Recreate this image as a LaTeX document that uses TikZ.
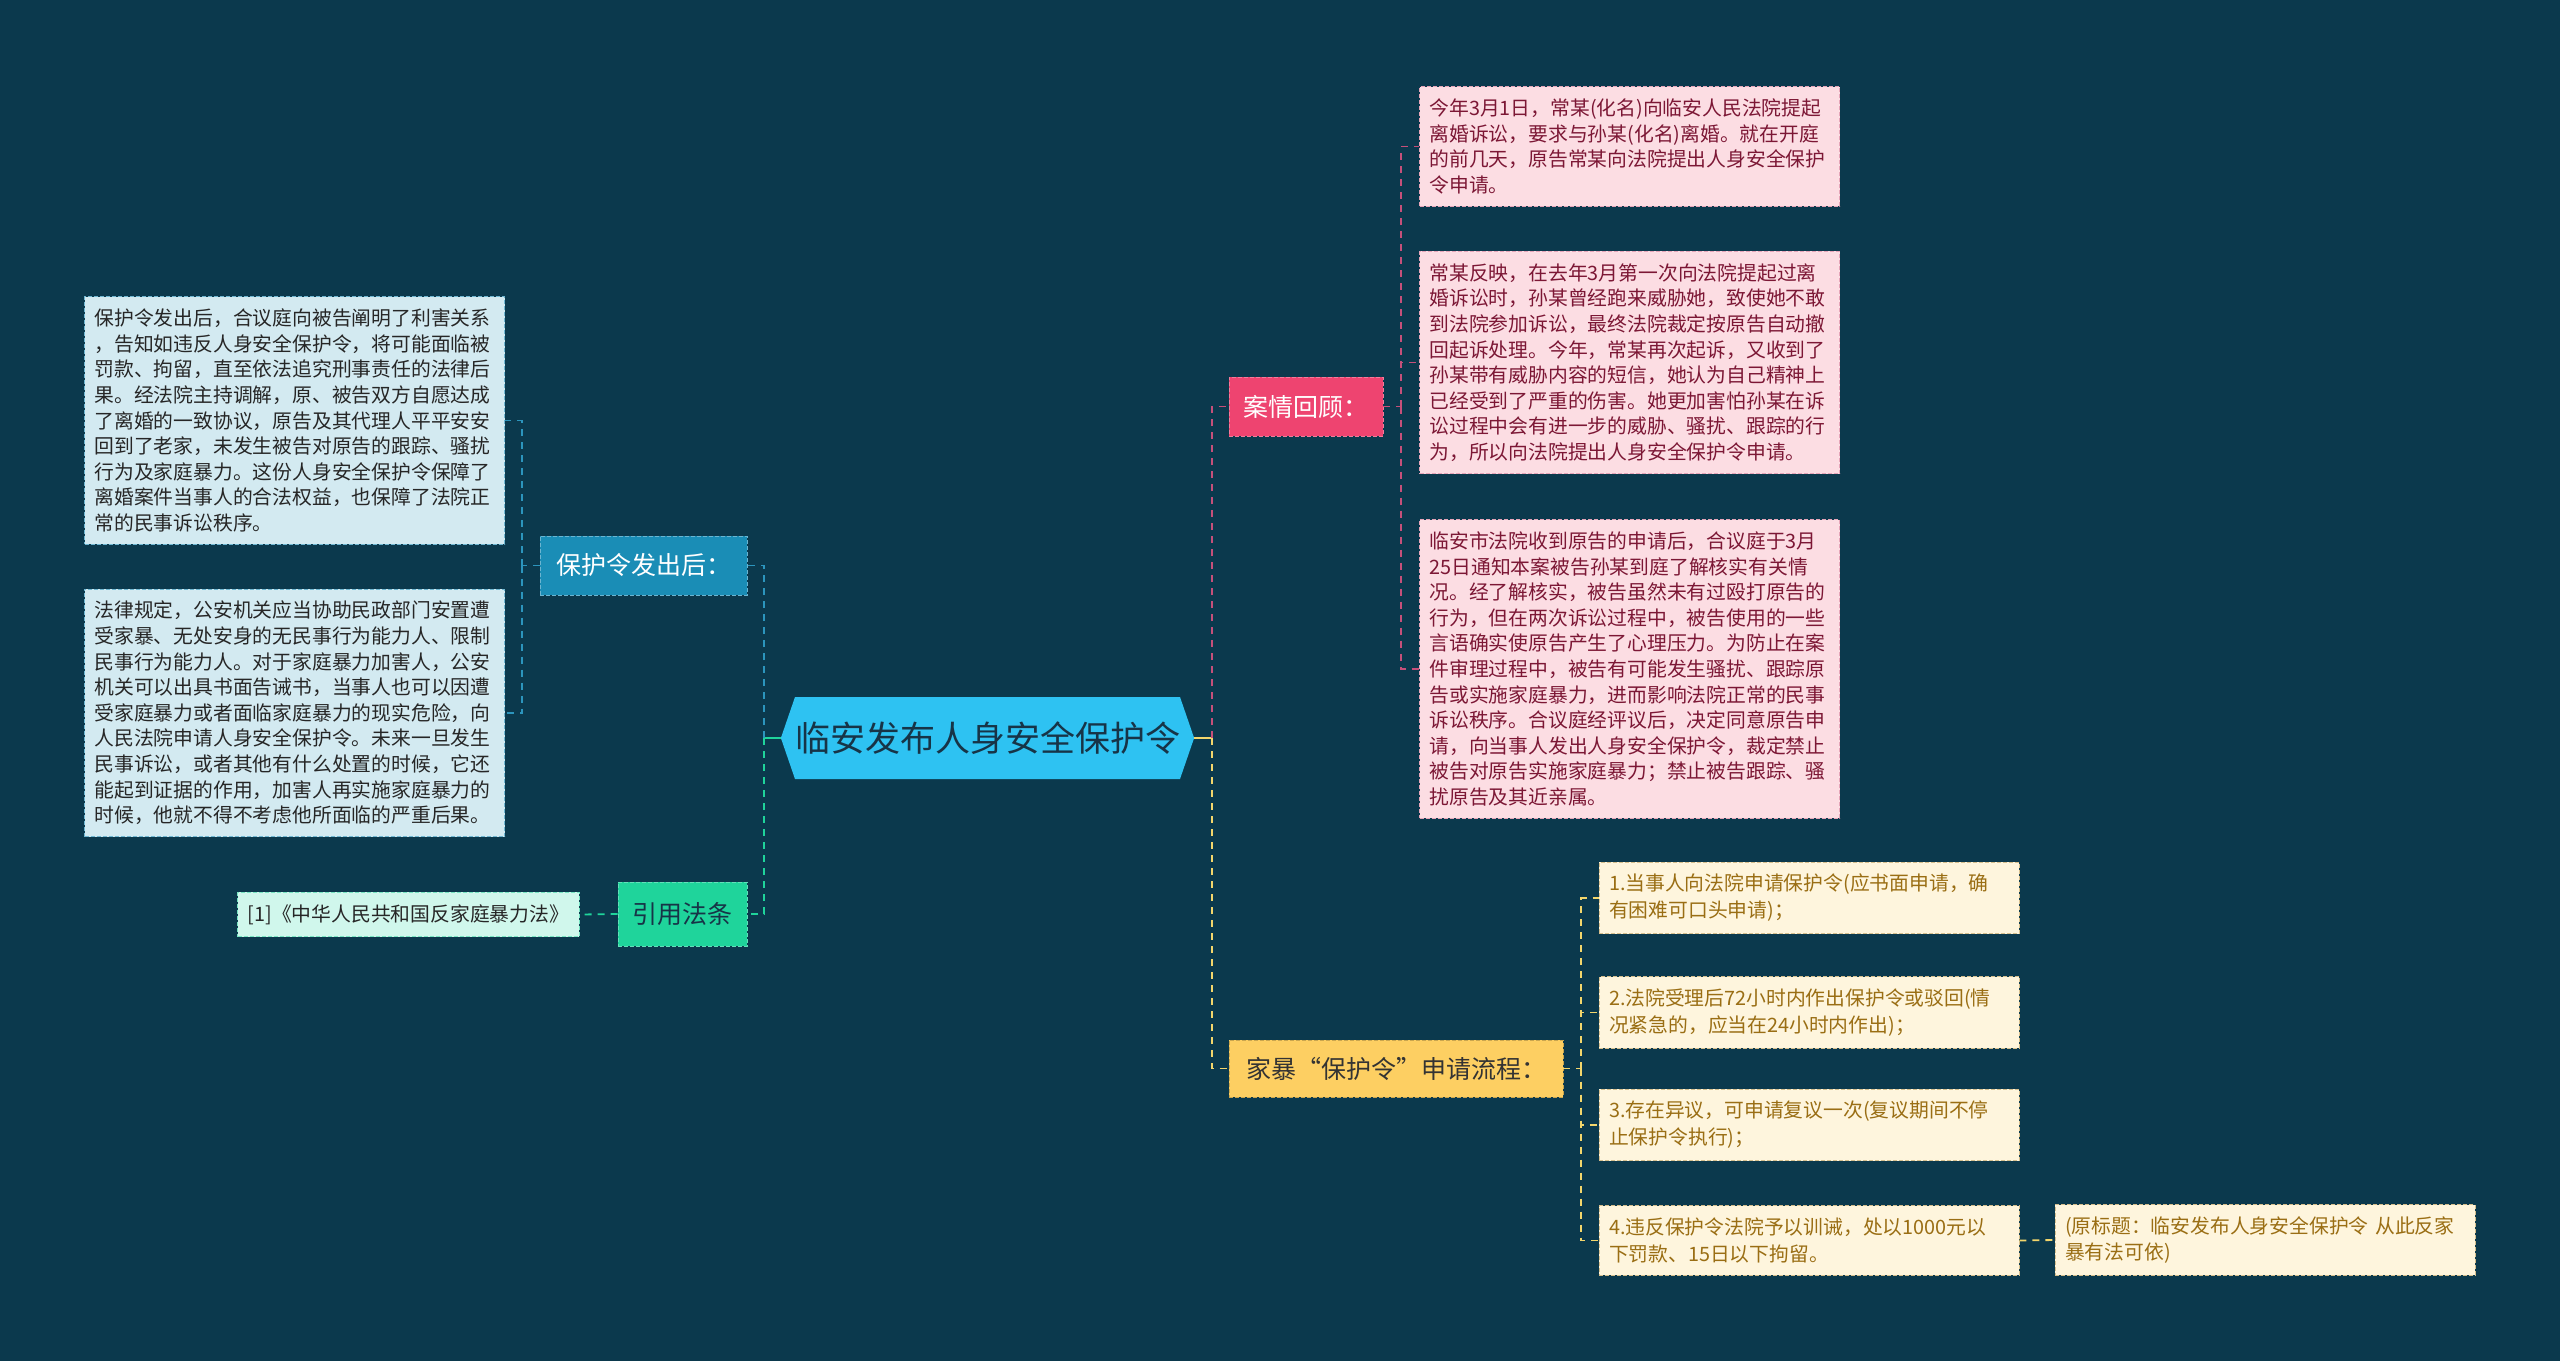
\documentclass[tikz,border=0pt]{standalone}
\usepackage{fontspec}
\setmainfont{Noto Sans CJK SC}
\usetikzlibrary{positioning,shapes.symbols}
\definecolor{bgc}{HTML}{0B394D}
\definecolor{hubc}{HTML}{2EC2F2}
\definecolor{hubtxt}{HTML}{173447}
\definecolor{bluec}{HTML}{1A8DB6}
\definecolor{blueln}{HTML}{2C95BD}
\definecolor{blueleaf}{HTML}{D3EAF1}
\definecolor{greenc}{HTML}{1FD49B}
\definecolor{greenleaf}{HTML}{D0F7EC}
\definecolor{pinkc}{HTML}{EE4470}
\definecolor{pinkln}{HTML}{C6507A}
\definecolor{pinkleaf}{HTML}{FCDDE3}
\definecolor{pinktxt}{HTML}{7C1735}
\definecolor{yelc}{HTML}{FDCF62}
\definecolor{yelln}{HTML}{F3D66C}
\definecolor{yelleaf}{HTML}{FEF5DD}
\definecolor{yeltxt}{HTML}{9A6E14}
\begin{document}
\begin{tikzpicture}[x=1pt,y=-1pt,
  box/.style={draw,dash pattern=on 4pt off 2pt,line width=0.9pt},
  leaf/.style={box,align=left,text width=400pt,inner xsep=10pt,inner ysep=12pt,
    font=\fontsize{19.8}{25.6}\selectfont},
  branch/.style={box,inner sep=0pt,font=\fontsize{25}{30}\selectfont},
  link/.style={dash pattern=on 7pt off 6pt,line width=1.8pt}]
  \useasboundingbox[fill=bgc] (0,0) rectangle (2560,1361);

  \node[signal,signal to=west and east,signal pointer angle=142,fill=hubc,
    minimum width=383pt,minimum height=82pt,inner sep=0pt,text=hubtxt,
    font=\fontsize{35}{40}\selectfont] (hub) at (987.5,738) {临安发布人身安全保护令};

  % left side
  \node[branch,fill=bluec,draw=blueln!70!white,text=white,minimum width=207pt,minimum height=59pt]
    (after) at (643.5,565.5) {保护令发出后：};
  \node[branch,fill=greenc,draw=greenc!70!white,text=hubtxt,minimum width=129pt,minimum height=64pt]
    (law) at (682.5,914) {引用法条};
  \node[leaf,fill=blueleaf,draw=blueln!60!blueleaf,text=black!85] (l1) at (294.5,420.5)
    {保护令发出后，合议庭向被告阐明了利害关系\\
     ，告知如违反人身安全保护令，将可能面临被\\
     罚款、拘留，直至依法追究刑事责任的法律后\\
     果。经法院主持调解，原、被告双方自愿达成\\
     了离婚的一致协议，原告及其代理人平平安安\\
     回到了老家，未发生被告对原告的跟踪、骚扰\\
     行为及家庭暴力。这份人身安全保护令保障了\\
     离婚案件当事人的合法权益，也保障了法院正\\
     常的民事诉讼秩序。};
  \node[leaf,fill=blueleaf,draw=blueln!60!blueleaf,text=black!85] (l2) at (294.5,713)
    {法律规定，公安机关应当协助民政部门安置遭\\
     受家暴、无处安身的无民事行为能力人、限制\\
     民事行为能力人。对于家庭暴力加害人，公安\\
     机关可以出具书面告诫书，当事人也可以因遭\\
     受家庭暴力或者面临家庭暴力的现实危险，向\\
     人民法院申请人身安全保护令。未来一旦发生\\
     民事诉讼，或者其他有什么处置的时候，它还\\
     能起到证据的作用，加害人再实施家庭暴力的\\
     时候，他就不得不考虑他所面临的严重后果。};
  \node[leaf,text width=,fill=greenleaf,draw=greenc!50!greenleaf,text=black!85] (cite) at (408.5,914.5)
    {[1]《中华人民共和国反家庭暴力法》};

  \coordinate (lj) at (764,738);
  \coordinate (lt) at (522,565.5);
  \draw[line width=1.8pt,greenc] (hub.west) -- (lj);
  \draw[link,blueln] (lj) |- (after.east);
  \draw[link,greenc] (lj) |- (law.east);
  \draw[link,blueln] (after.west) -- (lt);
  \draw[link,blueln] (lt) |- (l1.east);
  \draw[link,blueln] (lt) |- (l2.east);
  \draw[link,greenc] (law.west) -- (cite.east);

  % right side
  \node[branch,fill=pinkc,draw=pinkc!70!white,text=white,minimum width=154pt,minimum height=59pt]
    (case) at (1306,406.5) {案情回顾：};
  \node[branch,fill=yelc,draw=yelc!80!black,text=black!80,minimum width=334pt,minimum height=57pt]
    (flow) at (1396,1068.5) {家暴“保护令”申请流程：};
  \node[leaf,fill=pinkleaf,draw=pinkln!40!pinkleaf,text=pinktxt] (pa) at (1629.5,146.5)
    {今年3月1日，常某(化名)向临安人民法院提起\\
     离婚诉讼，要求与孙某(化名)离婚。就在开庭\\
     的前几天，原告常某向法院提出人身安全保护\\
     令申请。};
  \node[leaf,fill=pinkleaf,draw=pinkln!40!pinkleaf,text=pinktxt] (pb) at (1629.5,362.5)
    {常某反映，在去年3月第一次向法院提起过离\\
     婚诉讼时，孙某曾经跑来威胁她，致使她不敢\\
     到法院参加诉讼，最终法院裁定按原告自动撤\\
     回起诉处理。今年，常某再次起诉，又收到了\\
     孙某带有威胁内容的短信，她认为自己精神上\\
     已经受到了严重的伤害。她更加害怕孙某在诉\\
     讼过程中会有进一步的威胁、骚扰、跟踪的行\\
     为，所以向法院提出人身安全保护令申请。};
  \node[leaf,fill=pinkleaf,draw=pinkln!40!pinkleaf,text=pinktxt] (pc) at (1629.5,669)
    {临安市法院收到原告的申请后，合议庭于3月\\
     25日通知本案被告孙某到庭了解核实有关情\\
     况。经了解核实，被告虽然未有过殴打原告的\\
     行为，但在两次诉讼过程中，被告使用的一些\\
     言语确实使原告产生了心理压力。为防止在案\\
     件审理过程中，被告有可能发生骚扰、跟踪原\\
     告或实施家庭暴力，进而影响法院正常的民事\\
     诉讼秩序。合议庭经评议后，决定同意原告申\\
     请，向当事人发出人身安全保护令，裁定禁止\\
     被告对原告实施家庭暴力；禁止被告跟踪、骚\\
     扰原告及其近亲属。};

  \foreach \n/\y/\t in {1/898/{1.当事人向法院申请保护令(应书面申请，确\\有困难可口头申请)；},
                        2/1012.5/{2.法院受理后72小时内作出保护令或驳回(情\\况紧急的，应当在24小时内作出)；},
                        3/1125/{3.存在异议，可申请复议一次(复议期间不停\\止保护令执行)；},
                        4/1240.5/{4.违反保护令法院予以训诫，处以1000元以\\下罚款、15日以下拘留。}}
    \node[leaf,fill=yelleaf,draw=yeltxt!40!yelleaf,text=yeltxt,
      font=\fontsize{19.8}{27}\selectfont] (y\n) at (1809,\y) {\t};
  \node[leaf,fill=yelleaf,draw=yeltxt!40!yelleaf,text=yeltxt] (note) at (2265,1240)
    {(原标题：临安发布人身安全保护令 从此反家\\暴有法可依)};

  \coordinate (rj) at (1212,738);
  \coordinate (pj) at (1401,406.5);
  \coordinate (yj) at (1581,1068.5);
  \draw[line width=1.8pt,yelln] (hub.east) -- (rj);
  \draw[link,pinkln] (rj) |- (case.west);
  \draw[link,yelln] (rj) |- (flow.west);
  \draw[link,pinkln] (case.east) -- (pj);
  \foreach \b in {pa,pb,pc} \draw[link,pinkln] (pj) |- (\b.west);
  \draw[link,yelln] (flow.east) -- (yj);
  \foreach \b in {y1,y2,y3,y4} \draw[link,yelln] (yj) |- (\b.west);
  \draw[link,yelln] (y4.east) -- (note.west);
\end{tikzpicture}
\end{document}
